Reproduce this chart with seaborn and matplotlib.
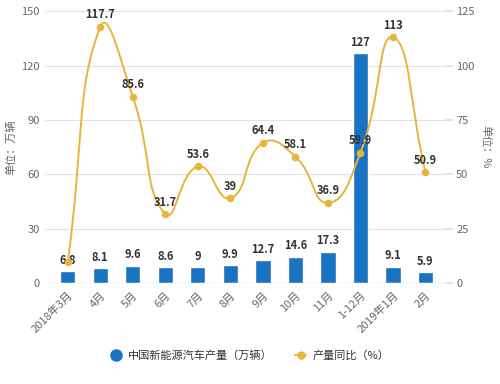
import numpy as np
import pandas as pd
import matplotlib
matplotlib.use("Agg")
import matplotlib.pyplot as plt
from matplotlib.path import Path
from matplotlib.patches import PathPatch
from matplotlib.lines import Line2D
import seaborn as sns

months = ["2018年3月", "4月", "5月", "6月", "7月", "8月", "9月", "10月", "11月", "1-12月", "2019年1月", "2月"]
output = [6.8, 8.1, 9.6, 8.6, 9, 9.9, 12.7, 14.6, 17.3, 127, 9.1, 5.9]
growth = [9.7, 117.7, 85.6, 31.7, 53.6, 39, 64.4, 58.1, 36.9, 59.9, 113, 50.9]

bar_color = "#1a72c2"
line_color = "#e8b43a"
text_color = "#333333"
tick_color = "#666666"

sns.set_theme(style="white")
plt.rcParams["font.family"] = ["Noto Sans CJK SC", "DejaVu Sans"]

df = pd.DataFrame({"month": months, "output": output, "growth": growth})

fig = plt.figure(figsize=(5, 3.84), dpi=100)
ax = fig.add_axes([0.09, 0.263, 0.80, 0.708])
ax2 = ax.twinx()

sns.barplot(data=df, x="month", y="output", color=bar_color, width=0.47,
            saturation=1, ax=ax, zorder=2)

ax.set_xlim(-0.7, 11.6)
ax.set_ylim(0, 150)
ax.set_yticks(range(0, 151, 30))
ax2.set_ylim(0, 125)
ax2.set_yticks(range(0, 126, 25))

ax.grid(axis="y", color="#e2e2e2", linewidth=0.8, zorder=0)
ax.set_axisbelow(True)
for a in (ax, ax2):
    for s in ["top", "left", "right", "bottom"]:
        a.spines[s].set_visible(False)
ax.axhline(0, color="#aaaaaa", linewidth=0.8, zorder=3)

ax.tick_params(axis="y", length=0, labelsize=8, labelcolor=tick_color, pad=4)
ax.tick_params(axis="x", length=3, color="#aaaaaa", labelsize=8, labelcolor=tick_color, pad=2)
ax2.tick_params(axis="y", length=6, color="#e2e2e2", labelsize=8, labelcolor=tick_color, pad=2)
plt.setp(ax.get_xticklabels(), rotation=45, ha="right", rotation_mode="anchor")

ax.set_xlabel("")
ax.set_ylabel("单位：万辆", fontsize=8, color=tick_color, labelpad=3)
ax2.set_ylabel("单位：%", fontsize=8, color=tick_color, rotation=270, labelpad=12)

# smooth curve (echarts-like bezier) computed in display space
xs = np.arange(len(growth))
pts = ax2.transData.transform(np.column_stack([xs, growth]))
n = len(pts)
smooth = 0.5
cps = []
for i in range(n):
    p = pts[i]
    prev = pts[i - 1] if i > 0 else p
    nxt = pts[i + 1] if i < n - 1 else p
    v = nxt - prev
    d0 = np.hypot(*(p - prev))
    d1 = np.hypot(*(p - nxt))
    tot = d0 + d1
    if tot:
        d0, d1 = d0 / tot, d1 / tot
    cps.append((p - v * d0 * smooth, p + v * d1 * smooth))
verts = [pts[0]]
codes = [Path.MOVETO]
for i in range(n - 1):
    verts += [cps[i][1], cps[i + 1][0], pts[i + 1]]
    codes += [Path.CURVE4] * 3
verts = ax2.transData.inverted().transform(np.array(verts))
ax2.add_patch(PathPatch(Path(verts, codes), facecolor="none", edgecolor=line_color,
                        linewidth=1.4, zorder=4))
sns.scatterplot(x=xs, y=growth, color=line_color, s=30, edgecolor=line_color,
                linewidth=0, ax=ax2, zorder=5, legend=False)

for i, v in enumerate(output):
    ax.annotate(f"{v:g}", (i, v), xytext=(0, 3), textcoords="offset points",
                ha="center", va="bottom", fontsize=8, fontweight="bold", color=text_color)
# first growth label is hidden under the bar label in the original
for i, v in enumerate(growth):
    if i == 0:
        continue
    ax2.annotate(f"{v:g}", (i, v), xytext=(0, 4), textcoords="offset points",
                 ha="center", va="bottom", fontsize=8, fontweight="bold", color=text_color,
                 zorder=6)

handles = [
    Line2D([], [], marker="o", linestyle="none", color=bar_color, markersize=8),
    Line2D([], [], marker="o", color=line_color, markersize=5, linewidth=1.4),
]
fig.legend(handles, ["中国新能源汽车产量（万辆）", "产量同比（%）"], loc="center",
           bbox_to_anchor=(0.5, 0.075), ncol=2, frameon=False, fontsize=8,
           handlelength=1.0, handletextpad=0.6, columnspacing=2.0, labelcolor=text_color)

fig.savefig("out.png", dpi=100)
